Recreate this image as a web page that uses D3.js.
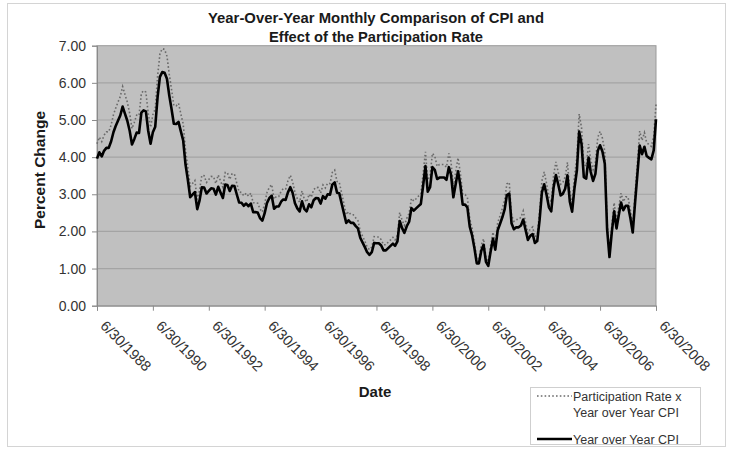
<!DOCTYPE html>
<html>
<head>
<meta charset="utf-8">
<script src="https://cdn.jsdelivr.net/npm/d3@7"></script>
<style>
  html, body { margin: 0; padding: 0; background: #ffffff; }
  svg { display: block; font-family: Arial, "Liberation Sans", sans-serif; }
</style>
</head>
<body>
<svg id="chart" width="733" height="449"></svg>
<script>
// ---- Data (monthly, June 1988 .. June 2008) ----
const firstMonth = [1988, 6];   // year, month of the first value
const cpiYoY = [
  // 1988 Jun-Dec
  3.96, 4.13, 4.02, 4.17, 4.25, 4.25, 4.42,
  // 1989
  4.67, 4.83, 4.98, 5.12, 5.36, 5.17, 4.98, 4.71, 4.34, 4.49, 4.66, 4.65,
  // 1990
  5.20, 5.26, 5.23, 4.71, 4.36, 4.67, 4.82, 5.62, 6.16, 6.29, 6.27, 6.11,
  // 1991
  5.65, 5.31, 4.90, 4.89, 4.95, 4.70, 4.45, 3.80, 3.39, 2.92, 2.99, 3.06,
  // 1992
  2.60, 2.82, 3.19, 3.18, 3.02, 3.09, 3.16, 3.15, 2.99, 3.20, 3.05, 2.90,
  // 1993
  3.26, 3.25, 3.09, 3.23, 3.22, 3.00, 2.78, 2.77, 2.69, 2.75, 2.68, 2.75,
  // 1994
  2.52, 2.52, 2.51, 2.36, 2.29, 2.49, 2.77, 2.90, 2.96, 2.61, 2.67, 2.67,
  // 1995
  2.80, 2.86, 2.85, 3.05, 3.19, 3.04, 2.76, 2.62, 2.54, 2.81, 2.61, 2.54,
  // 1996
  2.73, 2.65, 2.84, 2.90, 2.89, 2.75, 2.95, 2.88, 3.00, 2.99, 3.26, 3.32,
  // 1997
  3.04, 3.03, 2.76, 2.50, 2.23, 2.30, 2.23, 2.23, 2.15, 2.08, 1.83, 1.70,
  // 1998
  1.57, 1.44, 1.37, 1.44, 1.69, 1.68, 1.68, 1.62, 1.49, 1.49, 1.55, 1.61,
  // 1999
  1.67, 1.61, 1.73, 2.28, 2.09, 1.96, 2.14, 2.26, 2.63, 2.56, 2.62, 2.68,
  // 2000
  2.74, 3.22, 3.76, 3.07, 3.19, 3.73, 3.66, 3.41, 3.45, 3.45, 3.45, 3.39,
  // 2001
  3.73, 3.53, 2.92, 3.27, 3.62, 3.25, 2.72, 2.72, 2.65, 2.13, 1.90, 1.55,
  // 2002
  1.14, 1.14, 1.48, 1.64, 1.18, 1.07, 1.46, 1.80, 1.51, 2.03, 2.20, 2.38,
  // 2003
  2.60, 2.98, 3.02, 2.22, 2.06, 2.11, 2.11, 2.16, 2.32, 2.04, 1.77, 1.88,
  // 2004
  1.93, 1.69, 1.74, 2.29, 3.05, 3.27, 2.99, 2.65, 2.54, 3.19, 3.52, 3.26,
  // 2005
  2.97, 3.01, 3.15, 3.51, 2.80, 2.53, 3.17, 3.64, 4.69, 4.35, 3.46, 3.42,
  // 2006
  3.99, 3.60, 3.36, 3.55, 4.17, 4.32, 4.15, 3.82, 2.06, 1.31, 1.97, 2.54,
  // 2007
  2.08, 2.42, 2.78, 2.57, 2.69, 2.69, 2.36, 1.97, 2.76, 3.54, 4.31, 4.08,
  // 2008 Jan-Jun
  4.28, 4.03, 3.98, 3.94, 4.18, 5.02
];
const participationCpi = [
  // 1988 Jun-Dec
  4.36, 4.54, 4.42, 4.59, 4.68, 4.68, 4.86,
  // 1989
  5.14, 5.31, 5.48, 5.63, 5.90, 5.69, 5.48, 5.18, 4.77, 4.94, 5.13, 5.12,
  // 1990
  5.72, 5.79, 5.75, 5.18, 4.80, 5.14, 5.30, 6.18, 6.78, 6.92, 6.90, 6.72,
  // 1991
  6.22, 5.84, 5.39, 5.38, 5.45, 5.17, 4.90, 4.18, 3.73, 3.21, 3.29, 3.37,
  // 1992
  2.86, 3.10, 3.51, 3.50, 3.32, 3.40, 3.48, 3.47, 3.29, 3.52, 3.36, 3.19,
  // 1993
  3.59, 3.58, 3.40, 3.55, 3.54, 3.30, 3.06, 3.05, 2.96, 3.03, 2.95, 3.03,
  // 1994
  2.77, 2.77, 2.76, 2.60, 2.52, 2.74, 3.05, 3.19, 3.26, 2.87, 2.94, 2.94,
  // 1995
  3.08, 3.15, 3.14, 3.36, 3.51, 3.34, 3.04, 2.88, 2.79, 3.09, 2.87, 2.79,
  // 1996
  3.00, 2.92, 3.12, 3.19, 3.18, 3.03, 3.25, 3.17, 3.30, 3.29, 3.59, 3.65,
  // 1997
  3.34, 3.33, 3.04, 2.75, 2.45, 2.53, 2.45, 2.45, 2.37, 2.29, 2.01, 1.87,
  // 1998
  1.73, 1.58, 1.51, 1.58, 1.86, 1.85, 1.85, 1.78, 1.64, 1.64, 1.71, 1.77,
  // 1999
  1.84, 1.77, 1.90, 2.51, 2.30, 2.16, 2.35, 2.49, 2.89, 2.82, 2.88, 2.95,
  // 2000
  3.01, 3.54, 4.14, 3.38, 3.51, 4.10, 4.03, 3.75, 3.80, 3.80, 3.80, 3.73,
  // 2001
  4.10, 3.88, 3.21, 3.60, 3.98, 3.58, 2.99, 2.99, 2.92, 2.34, 2.09, 1.71,
  // 2002
  1.25, 1.25, 1.63, 1.80, 1.30, 1.18, 1.61, 1.98, 1.66, 2.23, 2.42, 2.62,
  // 2003
  2.86, 3.28, 3.32, 2.44, 2.27, 2.32, 2.32, 2.38, 2.55, 2.24, 1.95, 2.07,
  // 2004
  2.12, 1.86, 1.91, 2.52, 3.36, 3.60, 3.29, 2.92, 2.79, 3.51, 3.87, 3.59,
  // 2005
  3.27, 3.31, 3.47, 3.86, 3.08, 2.78, 3.49, 4.00, 5.16, 4.79, 3.81, 3.76,
  // 2006
  4.35, 3.93, 3.66, 3.87, 4.53, 4.69, 4.51, 4.15, 2.24, 1.42, 2.15, 2.77,
  // 2007
  2.27, 2.64, 3.03, 2.80, 2.93, 2.93, 2.57, 2.15, 3.01, 3.86, 4.70, 4.45,
  // 2008 Jan-Jun
  4.66, 4.39, 4.34, 4.29, 4.55, 5.42
];
const xTickLabels = ["6/30/1988","6/30/1990","6/30/1992","6/30/1994","6/30/1996",
  "6/30/1998","6/30/2000","6/30/2002","6/30/2004","6/30/2006","6/30/2008"];
const yTicks = [0, 1, 2, 3, 4, 5, 6, 7];
const titleLines = ["Year-Over-Year Monthly Comparison of CPI and", "Effect of the Participation Rate"];
const seriesNames = [["Participation Rate x", "Year over Year CPI"], ["Year over Year CPI"]];

// ---- Layout ----
const svg = d3.select("#chart");
const plot = { left: 97, right: 656, top: 45.7, bottom: 305.7 };
const FONT = "Arial, 'Liberation Sans', sans-serif";

const parseTick = d3.timeParse("%m/%d/%Y");
const tickDates = xTickLabels.map(parseTick);

// month-end dates for each value
const months = cpiYoY.map((_, i) => new Date(firstMonth[0], firstMonth[1] - 1 + i + 1, 0));

const x = d3.scaleTime()
  .domain([tickDates[0], tickDates[tickDates.length - 1]])
  .range([plot.left, plot.right]);
const y = d3.scaleLinear().domain([0, 7]).range([plot.bottom, plot.top]);

// outer chart border
svg.append("rect")
  .attr("x", 7.5).attr("y", 3.5).attr("width", 718).attr("height", 443)
  .attr("fill", "#ffffff").attr("stroke", "#d4d4d4").attr("stroke-width", 1);

// title
svg.append("g").selectAll("text").data(titleLines).join("text")
  .attr("x", 376).attr("y", (d, i) => 22.5 + i * 19)
  .attr("text-anchor", "middle")
  .attr("font-size", 15).attr("font-weight", "bold").attr("fill", "#1a1a1a")
  .attr("textLength", (d, i) => i === 0 ? 336 : 214).attr("lengthAdjust", "spacingAndGlyphs")
  .text(d => d);

// plot background
svg.append("rect")
  .attr("x", plot.left).attr("y", plot.top)
  .attr("width", plot.right - plot.left).attr("height", plot.bottom - plot.top)
  .attr("fill", "#c0c0c0").attr("stroke", "#9a9a9a").attr("stroke-width", 1);

// gridlines
svg.append("g").selectAll("line").data(yTicks.filter(t => t > 0 && t < 7)).join("line")
  .attr("x1", plot.left).attr("x2", plot.right)
  .attr("y1", d => y(d)).attr("y2", d => y(d))
  .attr("stroke", "#a4a4a4").attr("stroke-width", 1.2);

// y axis
const yAxis = svg.append("g")
  .attr("transform", `translate(${plot.left},0)`)
  .call(d3.axisLeft(y).tickValues(yTicks).tickFormat(d3.format(".2f")).tickSize(5).tickPadding(6));
yAxis.select(".domain").attr("stroke", "#8a8a8a");
yAxis.selectAll(".tick line").attr("stroke", "#8a8a8a");
yAxis.selectAll(".tick text").attr("font-size", 14).attr("fill", "#333").attr("font-family", FONT);

// x axis
const xAxis = svg.append("g")
  .attr("transform", `translate(0,${plot.bottom})`)
  .call(d3.axisBottom(x).tickValues(tickDates).tickFormat((d, i) => xTickLabels[i]).tickSize(5).tickPadding(0));
xAxis.select(".domain").attr("stroke", "#8a8a8a");
xAxis.selectAll(".tick line").attr("stroke", "#8a8a8a");
xAxis.selectAll(".tick text")
  .attr("font-size", 14.5).attr("fill", "#333").attr("font-family", FONT)
  .attr("text-anchor", "start")
  .attr("dy", null)
  .attr("transform", "translate(2,21) rotate(45)")
  .attr("y", 0).attr("x", 0);

// axis titles
svg.append("text")
  .attr("transform", "translate(45,170) rotate(-90)")
  .attr("text-anchor", "middle").attr("font-size", 15.5).attr("font-weight", "bold").attr("fill", "#1a1a1a")
  .text("Percent Change");
svg.append("text")
  .attr("x", 375).attr("y", 397)
  .attr("text-anchor", "middle").attr("font-size", 15).attr("font-weight", "bold").attr("fill", "#1a1a1a")
  .text("Date");

// lines
const line = d3.line().x((d, i) => x(months[i])).y(d => y(d));
svg.append("path").datum(participationCpi)
  .attr("d", line).attr("fill", "none")
  .attr("stroke", "#6a6a6a").attr("stroke-width", 1.6)
  .attr("stroke-dasharray", "1.6,2.2");
svg.append("path").datum(cpiYoY)
  .attr("d", line).attr("fill", "none")
  .attr("stroke", "#000").attr("stroke-width", 2.6).attr("stroke-linejoin", "round");

// legend
const lg = svg.append("g");
lg.append("rect").attr("x", 530.5).attr("y", 387.5).attr("width", 170).attr("height", 57)
  .attr("fill", "#fff").attr("stroke", "#cfcfcf");
lg.append("line").attr("x1", 537).attr("x2", 572).attr("y1", 396).attr("y2", 396)
  .attr("stroke", "#6a6a6a").attr("stroke-width", 1.6).attr("stroke-dasharray", "1.6,2.2");
lg.append("line").attr("x1", 537).attr("x2", 572).attr("y1", 439).attr("y2", 439)
  .attr("stroke", "#000").attr("stroke-width", 2.6);
lg.append("g").selectAll("text").data(seriesNames[0]).join("text")
  .attr("x", 573).attr("y", (d, i) => 400.5 + i * 16)
  .attr("font-size", 12.5).attr("fill", "#333").attr("font-family", FONT).text(d => d);
lg.append("text").attr("x", 573).attr("y", 443.5)
  .attr("font-size", 12.5).attr("fill", "#333").attr("font-family", FONT).text(seriesNames[1][0]);
</script>
</body>
</html>
